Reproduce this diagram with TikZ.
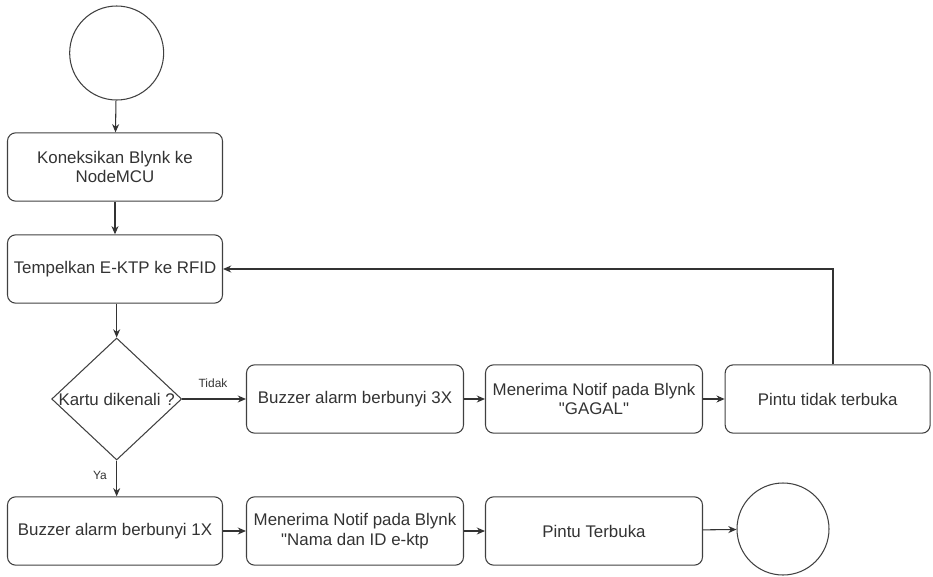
\documentclass[tikz,border=0pt]{standalone}
\usepackage{fontspec}
\setmainfont{Liberation Sans}
\usetikzlibrary{arrows.meta,shapes.geometric}

\begin{document}
\begin{tikzpicture}[
  font=\fontsize{14.4}{17}\selectfont,
  every node/.style={text=black!80},
  flowbox/.style={draw=black!75,line width=0.9pt,rounded corners=7pt,
    minimum width=6.45cm,minimum height=2.05cm,align=center,inner sep=2pt},
  endpoint/.style={draw=black!75,line width=0.9pt,circle,inner sep=0pt},
  choice/.style={draw=black!75,line width=0.9pt,diamond,inner sep=0pt,
    minimum width=3.9cm,minimum height=3.66cm},
  branch/.style={font=\fontsize{10.2}{12}\selectfont},
  link/.style={-{Stealth[length=7pt,width=6pt]},draw=black!80,line width=0.9pt}
]
\useasboundingbox (0,0) rectangle (27.99,-17.28);

\node[endpoint,minimum size=2.82cm] (start) at (3.5,-1.59) {};

\node[flowbox] (konek) at (3.45,-5.01) {Koneksikan Blynk ke\\NodeMCU};

\node[flowbox] (tempel) at (3.45,-8.07) {Tempelkan E-KTP ke RFID};

\node[choice] (kartu) at (3.5,-11.97) {};
\node (kartutext) at (kartu) {Kartu dikenali ?};

\node[flowbox] (buzz1) at (3.45,-15.93) {Buzzer alarm berbunyi 1X};

\node[flowbox,minimum width=6.51cm] (buzz3) at (10.65,-11.97) {Buzzer alarm berbunyi 3X};

\node[flowbox,minimum width=6.51cm] (gagal) at (17.82,-11.97) {Menerima Notif pada Blynk\\\textquotedbl GAGAL\textquotedbl};

\node[flowbox,minimum width=6.15cm] (tidak) at (24.83,-11.97) {Pintu tidak terbuka};

\node[flowbox,minimum width=6.51cm] (nama) at (10.65,-15.93) {Menerima Notif pada Blynk\\\textquotedbl Nama dan ID e-ktp};

\node[flowbox,minimum width=6.51cm] (buka) at (17.82,-15.93) {Pintu Terbuka};

\node[endpoint,minimum size=2.76cm] (stop) at (23.49,-15.87) {};

\coordinate (balik) at (24.99,-8.07);

\draw[link] (start) -- (konek);

\draw[link] (konek) -- (tempel);

\draw[link] (tempel.south -| kartu) -- (kartu.north);

\draw[link] (kartu.east) -- (buzz3.west);
\node[branch] (tidaklabel) at (6.39,-11.49) {Tidak};

\draw[link] (kartu.south) -- (buzz1.north -| kartu);
\node[branch] (yalabel) at (3.0,-14.25) {Ya};

\draw[link] (buzz3) -- (gagal);

\draw[link] (gagal) -- (tidak);

\draw[link] (tidak.north -| balik) -- (balik) -- (tempel.east);

\draw[link] (buzz1) -- (nama);

\draw[link] (nama) -- (buka);

\draw[link] (buka) -- (stop);
\end{tikzpicture}
\end{document}
